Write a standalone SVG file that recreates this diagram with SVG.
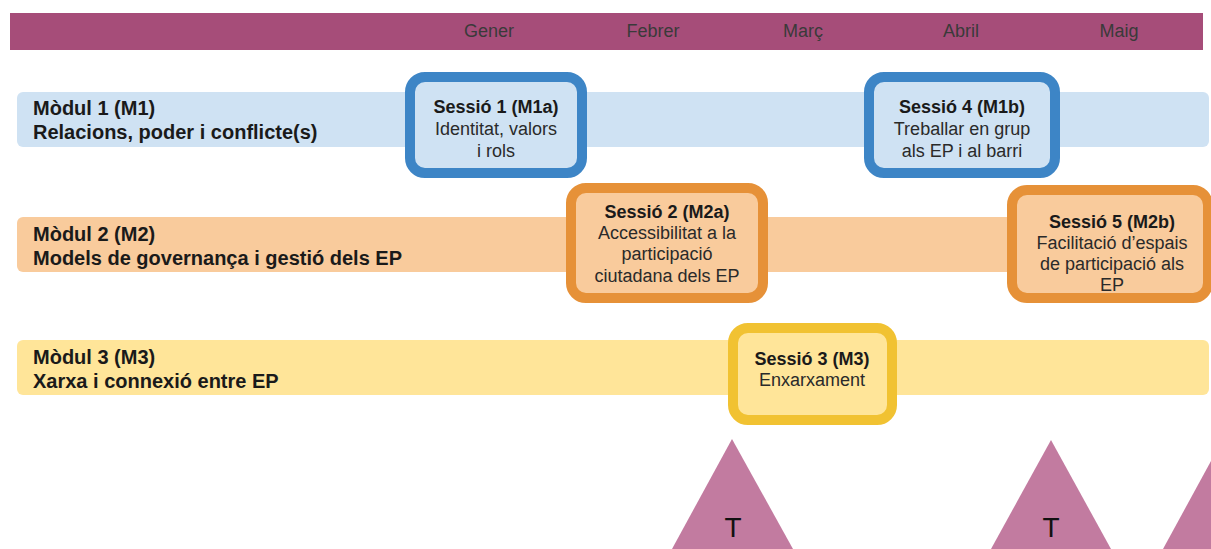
<svg xmlns="http://www.w3.org/2000/svg" width="1211" height="549" viewBox="0 0 1211 549">
<style>
text{font-family:"Liberation Sans",Arial,sans-serif;fill:#1a1a1a}
.m{font-size:18px;fill:#3a3a3a;text-anchor:middle}
.lab{font-size:20px;font-weight:bold}
.st{font-size:18px;font-weight:bold;text-anchor:middle}
.sd{font-size:18px;text-anchor:middle;fill:#2a2a2a}
.tt{font-size:28px;text-anchor:middle;fill:#111}
.b1{fill:#cfe2f3;stroke:#3d85c6;stroke-width:10}
.b2{fill:#f9cb9c;stroke:#e69138;stroke-width:10}
.b3{fill:#ffe599;stroke:#f1c232;stroke-width:10}
.tri{fill:#c27ba0}
</style>
<rect width="1211" height="549" fill="#fff"/>
<g id="header">
<rect x="10" y="13" width="1193" height="37" fill="#a64d79"/>
<text class="m" x="489" y="37">Gener</text>
<text class="m" x="653" y="37">Febrer</text>
<text class="m" x="803" y="37">Març</text>
<text class="m" x="961" y="37">Abril</text>
<text class="m" x="1119" y="37">Maig</text>
</g>
<g id="module1">
<rect x="17" y="92" width="1192" height="55" rx="6" fill="#cfe2f3"/>
<text class="lab" x="33" y="115">Mòdul 1 (M1)</text>
<text class="lab" x="33" y="139">Relacions, poder i conflicte(s)</text>
</g>
<g id="module2">
<rect x="17" y="217" width="1192" height="55" rx="6" fill="#f9cb9c"/>
<text class="lab" x="33" y="241">Mòdul 2 (M2)</text>
<text class="lab" x="33" y="265">Models de governança i gestió dels EP</text>
</g>
<g id="module3">
<rect x="17" y="340" width="1192" height="55" rx="6" fill="#ffe599"/>
<text class="lab" x="33" y="364">Mòdul 3 (M3)</text>
<text class="lab" x="33" y="388">Xarxa i connexió entre EP</text>
</g>
<g id="session1">
<rect class="b1" x="410" y="77" width="172" height="96" rx="15"/>
<text class="st" x="496" y="113">Sessió 1 (M1a)</text>
<text class="sd" x="496" y="135">Identitat, valors</text>
<text class="sd" x="496" y="157">i rols</text>
</g>
<g id="session4">
<rect class="b1" x="869" y="77" width="186" height="96" rx="15"/>
<text class="st" x="962" y="113">Sessió 4 (M1b)</text>
<text class="sd" x="962" y="135">Treballar en grup</text>
<text class="sd" x="962" y="157">als EP i al barri</text>
</g>
<g id="session2">
<rect class="b2" x="571" y="188" width="192" height="110" rx="15"/>
<text class="st" x="667" y="218">Sessió 2 (M2a)</text>
<text class="sd" x="667" y="239">Accessibilitat a la</text>
<text class="sd" x="667" y="260">participació</text>
<text class="sd" x="667" y="282">ciutadana dels EP</text>
</g>
<g id="session5">
<rect class="b2" x="1012" y="190" width="196" height="108" rx="15"/>
<text class="st" x="1112" y="228">Sessió 5 (M2b)</text>
<text class="sd" x="1112" y="249">Facilitació d’espais</text>
<text class="sd" x="1112" y="270">de participació als</text>
<text class="sd" x="1112" y="291">EP</text>
</g>
<g id="session3">
<rect class="b3" x="733" y="328" width="159" height="92" rx="15"/>
<text class="st" x="812" y="365">Sessió 3 (M3)</text>
<text class="sd" x="812" y="386">Enxarxament</text>
</g>
<g id="tri1">
<polygon class="tri" points="732,439 672,549 793,549"/>
<text class="tt" x="733" y="537">T</text>
</g>
<g id="tri2">
<polygon class="tri" points="1051,440 991,549 1111,549"/>
<text class="tt" x="1051" y="537">T</text>
</g>
<g id="tri3">
<polygon class="tri" points="1223,439 1163,549 1283,549"/>
</g>
<g id="connectors"></g>
</svg>
